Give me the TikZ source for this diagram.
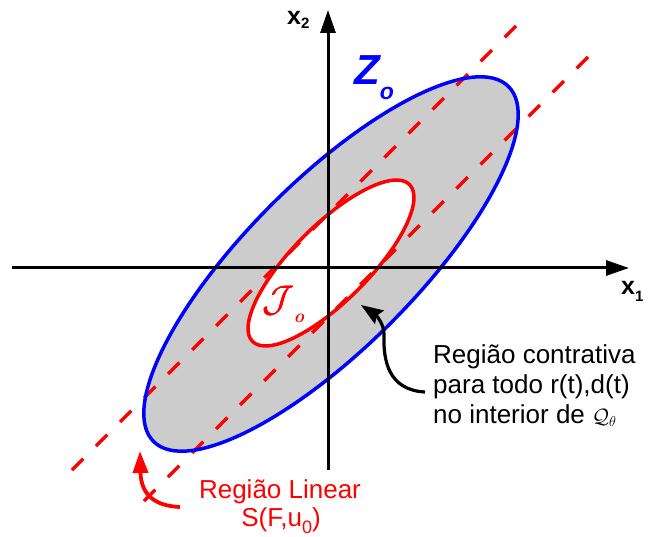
\documentclass[tikz,border=0pt]{standalone}
\usepackage{graphicx}
\usepackage{fontspec}
\setmainfont{Liberation Sans}
\usetikzlibrary{arrows.meta}
\definecolor{regiongray}{RGB}{204,204,204}
\newcommand{\thickJ}{\rlap{$\mathcal{J}$}\rlap{\raisebox{0.15pt}{$\mathcal{J}$}}\kern0.2pt$\mathcal{J}$}
\newcommand{\thicko}{\rlap{$o$}\kern0.25pt$o$}
\begin{document}
\begin{tikzpicture}[x=1pt,y=-1pt,
  axisline/.style={line width=3pt,-{Triangle[length=23pt,width=15pt]}},
  outerbound/.style={blue,line width=3.5pt},
  innerbound/.style={red,line width=3.5pt},
  linreg/.style={red,line width=3.5pt,dash pattern=on 16pt off 18pt},
  blackptr/.style={line width=3.2pt,-{Stealth[length=22pt,width=16pt,inset=3pt]}},
  redptr/.style={red,line width=3.8pt,-{Triangle[length=22pt,width=15pt]}},
  txt/.style={inner sep=0pt,font=\fontsize{26}{30}\selectfont},
  redtxt/.style={txt,text=red},
]
\useasboundingbox (0,0) rectangle (648,537);
% centres
\coordinate (co) at (331,264);
\coordinate (ci) at (331,263);
% regions
\fill[regiongray,rotate around={45:(co)}] (co) ellipse [x radius=251,y radius=84];
\fill[white,rotate around={45:(ci)}] (ci) ellipse [x radius=111,y radius=38];
% linear region boundaries
\coordinate (l1t) at (516,26);  \coordinate (l1b) at (61,481);
\coordinate (l2t) at (588,57);  \coordinate (l2b) at (133,512);
\draw[linreg] (l1t) -- (l1b);
\draw[linreg] (l2t) -- (l2b);
% ellipse outlines
\draw[innerbound,rotate around={45:(ci)}] (ci) ellipse [x radius=111,y radius=38];
\draw[outerbound,rotate around={45:(co)}] (co) ellipse [x radius=251,y radius=84];
% axes
\coordinate (xl) at (12,268);  \coordinate (xr) at (629,268);
\coordinate (yb) at (328,470); \coordinate (yt) at (328,10);
\draw[axisline] (xl) -- (xr);
\draw[axisline] (yb) -- (yt);
% axis labels
\node[anchor=base west,inner sep=0pt,font=\fontsize{25}{25}\selectfont\bfseries] (x2) at (287,25) {x\raisebox{-4pt}{\fontsize{15}{15}\selectfont 2}};
\node[anchor=base west,inner sep=0pt,font=\fontsize{25}{25}\selectfont\bfseries] (x1) at (621,295) {x\raisebox{-7pt}{\fontsize{15}{15}\selectfont 1}};
% set labels
\node[anchor=base west,inner sep=0pt,text=blue,font=\fontsize{42}{42}\selectfont\bfseries\itshape] (zo) at (354,85) {Z\raisebox{-15pt}{\fontsize{23}{23}\selectfont o}};
\node[anchor=base west,inner sep=0pt,text=red] (jo) at (262,312) {\scalebox{3.7}{\thickJ}\raisebox{-10pt}{\scalebox{1.9}{\thicko}}};
% contractive region text
\node[txt,anchor=base west] (c1) at (433,363.5) {Região contrativa};
\node[txt,anchor=base west] (c2) at (433,393.5) {para todo r(t),d(t)};
\node[txt,anchor=base west] (c3) at (433,423.5) {no interior de {\fontsize{20}{20}\selectfont$\mathcal{Q}_\theta$}};
% linear region text
\node[redtxt,anchor=base] (r1) at (280,498.3) {Região Linear};
\node[redtxt,anchor=base] (r2) at (281,526.5) {S(F,u\raisebox{-6.5pt}{\fontsize{18}{18}\selectfont 0})};
% pointers
\coordinate (bs) at (425,392);
\coordinate (bt) at (361,305);
\draw[blackptr] (bs) .. controls (388,390) and (383,360) .. (384,334) .. controls (384,324) and (376,315) .. (bt);
\coordinate (rs) at (180,507);
\coordinate (rt) at (140,451);
\draw[redptr] (rs) .. controls (155,506) and (141,495) .. (rt);
\end{tikzpicture}
\end{document}
